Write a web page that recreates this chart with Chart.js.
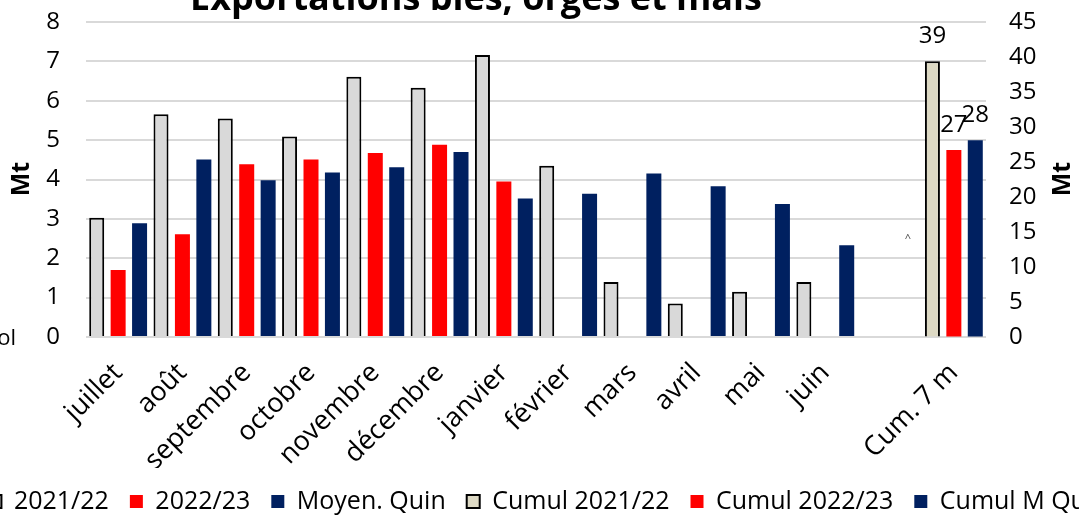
<!DOCTYPE html>
<html>
<head>
<meta charset="utf-8">
<script src="https://cdn.jsdelivr.net/npm/chart.js@4"></script>
<style>
  html, body { margin: 0; padding: 0; background: #fff; width: 1079px; height: 515px; overflow: hidden; }
  #exportsChart { position: absolute; left: -60px; top: 0; width: 1200px; height: 540px; }
</style>
</head>
<body>
<canvas id="exportsChart" width="1200" height="540"></canvas>
<script>
// Categories (empty slot before the cumulative group)
const months = ['juillet', 'août', 'septembre', 'octobre', 'novembre', 'décembre',
                'janvier', 'février', 'mars', 'avril', 'mai', 'juin', '', 'Cum. 7 m'];

// Monthly exports, Mt (left axis)
const exports2122 = [3.03, 5.66, 5.55, 5.09, 6.61, 6.33, 7.16, 4.35, 1.40, 0.85, 1.15, 1.40, null, null];
const exports2223 = [1.70, 2.61, 4.39, 4.51, 4.67, 4.88, 3.95, null, null, null, null, null, null, null];
const moyenQuin   = [2.89, 4.51, 3.98, 4.18, 4.31, 4.70, 3.52, 3.64, 4.15, 3.83, 3.38, 2.33, null, null];

// Cumulative 7 months, Mt (right axis)
const cumul2122 = [null, null, null, null, null, null, null, null, null, null, null, null, null, 39.4];
const cumul2223 = [null, null, null, null, null, null, null, null, null, null, null, null, null, 26.7];
const cumulMQ   = [null, null, null, null, null, null, null, null, null, null, null, null, null, 28.1];

// Axis ticks
const leftTicks = { min: 0, max: 8, step: 1 };
const rightTicks = { min: 0, max: 45, step: 5 };

const FONT = "'Open Sans', sans-serif";
const OFFSET_X = 60; // canvas is shifted left by this much
const PAD_LEFT = 16; // nudges the legend right without moving the plot

// Draws the title, axis titles, stray texts and the cumulative value labels
const extrasPlugin = {
    id: 'extras',
    afterDatasetsDraw(chart) {
        const ctx = chart.ctx;
        ctx.save();
        ctx.fillStyle = '#000';

        // value labels on the cumulative bars
        ctx.font = '24px ' + FONT;
        ctx.textAlign = 'center';
        ctx.textBaseline = 'alphabetic';
        chart.data.datasets.forEach((ds, i) => {
            if (!ds.showValues) return;
            chart.getDatasetMeta(i).data.forEach((bar, j) => {
                const v = ds.data[j];
                if (v === null) return;
                ctx.fillText(Math.round(v), bar.x, bar.y - 18);
            });
        });

        // title (cut by the top edge)
        ctx.font = 'bold 36px ' + FONT;
        ctx.fillText('Exportations blés, orges et maïs', 476 + OFFSET_X, 10);

        // left text partly outside
        ctx.font = '22px ' + FONT;
        ctx.textAlign = 'right';
        ctx.fillText('Vol', 16 + OFFSET_X, 345);

        // tiny caret
        ctx.font = '11px ' + FONT;
        ctx.textAlign = 'center';
        ctx.fillStyle = '#444';
        ctx.fillText('^', 908 + OFFSET_X, 242);

        // axis titles "Mt", both reading bottom to top
        ctx.fillStyle = '#000';
        ctx.font = 'bold 25px ' + FONT;
        ctx.textBaseline = 'middle';
        [[22, 179], [1063, 179]].forEach(([x, y]) => {
            ctx.save();
            ctx.translate(x + OFFSET_X, y);
            ctx.rotate(-Math.PI / 2);
            ctx.fillText('Mt', 0, 0);
            ctx.restore();
        });
        ctx.restore();
    }
};

const ctx = document.getElementById('exportsChart').getContext('2d');

const grayBar = { backgroundColor: '#d9d9d9', borderColor: '#000', borderWidth: 2 };

// fixes an axis width and drops its label overhang so the plot area stays put
const fixWidth = w => s => { s.width = w; s.paddingTop = 0; s.paddingBottom = 0; };

new Chart(ctx, {
    type: 'bar',
    data: {
        labels: months,
        datasets: [
            { label: '2021/22', data: exports2122, stack: 'a', yAxisID: 'y', ...grayBar },
            { label: '2022/23', data: exports2223, stack: 'b', yAxisID: 'y', backgroundColor: '#ff0000', borderWidth: 0 },
            { label: 'Moyen. Quin', data: moyenQuin, stack: 'c', yAxisID: 'y', backgroundColor: '#002060', borderWidth: 0 },
            { label: 'Cumul 2021/22', data: cumul2122, stack: 'a', yAxisID: 'y1', showValues: true,
              backgroundColor: '#ddd9c4', borderColor: '#000', borderWidth: 2 },
            { label: 'Cumul 2022/23', data: cumul2223, stack: 'b', yAxisID: 'y1', showValues: true,
              backgroundColor: '#ff0000', borderWidth: 0 },
            { label: 'Cumul M Quin', data: cumulMQ, stack: 'c', yAxisID: 'y1', showValues: true,
              backgroundColor: '#002060', borderWidth: 0 }
        ]
    },
    options: {
        responsive: false,
        maintainAspectRatio: false,
        animation: false,
        devicePixelRatio: 1,
        datasets: {
            bar: { barPercentage: 0.7, categoryPercentage: 1.0 }
        },
        layout: { padding: { top: 22, bottom: 16, left: PAD_LEFT, right: 0 } },
        plugins: {
            legend: {
                position: 'bottom',
                labels: {
                    boxWidth: 13,
                    boxHeight: 13,
                    padding: 21,
                    color: '#000',
                    font: { family: FONT, size: 25 }
                }
            },
            title: { display: false },
            tooltip: { enabled: false }
        },
        scales: {
            x: {
                grid: { display: false },
                border: { display: false },
                ticks: {
                    autoSkip: false,
                    minRotation: 45,
                    maxRotation: 45,
                    padding: 12,
                    color: '#000',
                    font: { family: FONT, size: 27 }
                },
                afterFit: s => { s.height = 131; }
            },
            y: {
                position: 'left',
                stacked: false,
                min: leftTicks.min,
                max: leftTicks.max,
                ticks: {
                    stepSize: leftTicks.step,
                    autoSkip: false,
                    padding: 26,
                    color: '#000',
                    font: { family: FONT, size: 24 }
                },
                grid: { color: '#d9d9d9', lineWidth: 2, drawTicks: false },
                border: { display: false },
                afterFit: fixWidth(86 + OFFSET_X - PAD_LEFT)
            },
            y1: {
                position: 'right',
                stacked: false,
                min: rightTicks.min,
                max: rightTicks.max,
                ticks: {
                    stepSize: rightTicks.step,
                    autoSkip: false,
                    padding: 23,
                    color: '#000',
                    font: { family: FONT, size: 24 }
                },
                grid: { drawOnChartArea: false, drawTicks: false },
                border: { display: false },
                afterFit: fixWidth(1200 - 986 - OFFSET_X)
            }
        }
    },
    plugins: [extrasPlugin]
});
</script>
</body>
</html>
